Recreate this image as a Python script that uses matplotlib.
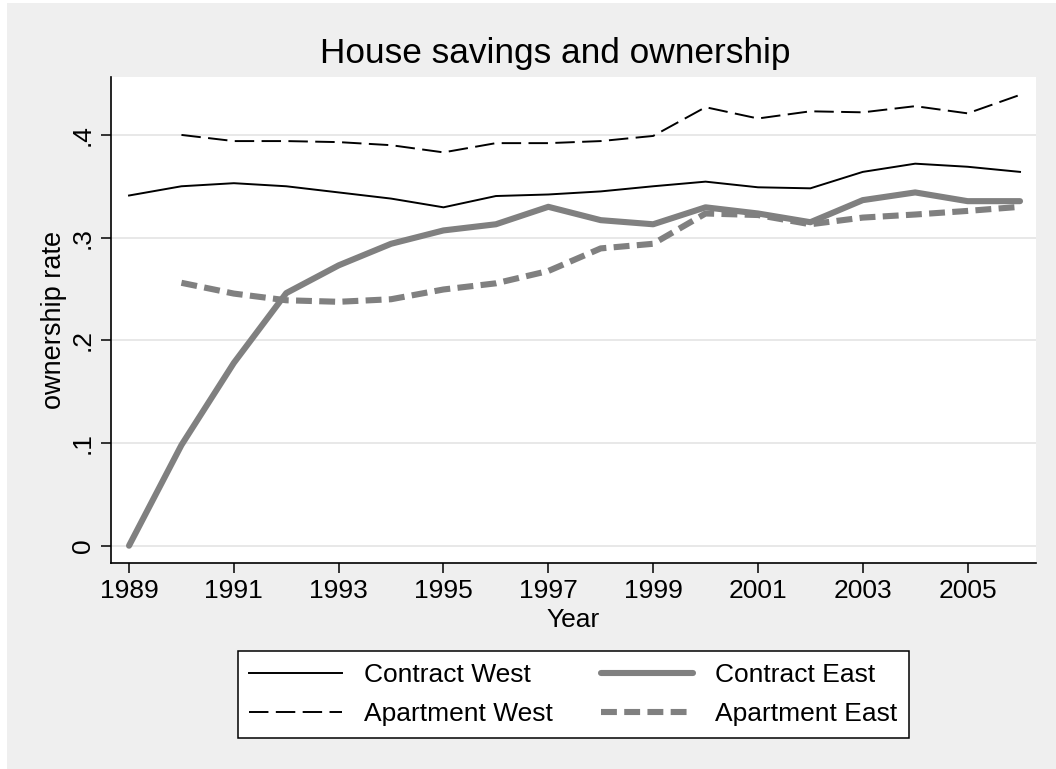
import matplotlib
matplotlib.use("Agg")
import matplotlib.pyplot as plt
from matplotlib.patches import Rectangle

plt.rcParams['font.family'] = ['Liberation Sans', 'DejaVu Sans']

years_all = list(range(1989, 2007))
years_apt = list(range(1990, 2007))

contract_west = [0.341, 0.350, 0.353, 0.350, 0.344, 0.338, 0.3295, 0.3405, 0.342,
                 0.345, 0.350, 0.3545, 0.349, 0.348, 0.364, 0.372, 0.369, 0.364]
contract_east = [0.000, 0.098, 0.178, 0.246, 0.273, 0.294, 0.307, 0.313, 0.330,
                 0.317, 0.313, 0.3295, 0.3235, 0.315, 0.3365, 0.344, 0.3355, 0.3355]
apartment_west = [0.400, 0.394, 0.394, 0.393, 0.390, 0.383, 0.392, 0.392,
                  0.394, 0.399, 0.427, 0.416, 0.423, 0.422, 0.428, 0.421, 0.439]
apartment_east = [0.256, 0.2455, 0.239, 0.2375, 0.240, 0.2495, 0.2555, 0.2675,
                  0.2895, 0.294, 0.3235, 0.322, 0.313, 0.3195, 0.3225, 0.326, 0.330]

x_ticks = [1989, 1991, 1993, 1995, 1997, 1999, 2001, 2003, 2005]
y_ticks = [0, 0.1, 0.2, 0.3, 0.4]
y_tick_labels = ['0', '.1', '.2', '.3', '.4']

W, H = 1056, 769
fig = plt.figure(figsize=(W / 100, H / 100), dpi=100, facecolor='white')
# light gray graph region (leaves a thin white strip at left and top)
fig.patches.append(Rectangle((7 / W, 0), 1 - 7 / W, 1 - 3 / H,
                             transform=fig.transFigure, facecolor='#EFEFEF',
                             edgecolor='none', zorder=-10))

ax = fig.add_axes([111 / W, 1 - 562.7 / H, (1036 - 111) / W, (562.7 - 77) / H])
ax.set_facecolor('white')

gray = '#808080'
ax.plot(years_all, contract_west, color='black', lw=1.4, label='Contract West')
ax.plot(years_all, contract_east, color=gray, lw=4.4, label='Contract East',
        solid_capstyle='round')
ax.plot(years_apt, apartment_west, color='black', lw=1.4, label='Apartment West',
        dashes=(10, 3.8))
ax.plot(years_apt, apartment_east, color=gray, lw=4.4, label='Apartment East',
        dashes=(2.6, 1.2))

ax.set_xlim(1988.656, 2006.305)
ax.set_ylim(-0.01655, 0.4564)
ax.set_xticks(x_ticks)
ax.set_yticks(y_ticks)
ax.set_yticklabels(y_tick_labels, rotation=90, va='center')
ax.grid(axis='y', color='#E6E6E6', lw=1.3)
ax.set_axisbelow(True)

for s in ['top', 'right']:
    ax.spines[s].set_visible(False)
for s in ['left', 'bottom']:
    ax.spines[s].set_linewidth(1.2)
ax.tick_params(axis='both', direction='out', length=7.5, width=1.1,
               labelsize=19, pad=4)

ax.set_xlabel('Year', fontsize=19, labelpad=3.5)
ax.set_ylabel('ownership rate', fontsize=19.5, labelpad=3)

fig.text(555 / W, 1 - 63 / H, 'House savings and ownership', fontsize=25.4,
         ha='center', va='baseline')

# two rows: Contract West / Contract East, then Apartment West / Apartment East
h, l = ax.get_legend_handles_labels()
order = [0, 2, 1, 3]
leg = fig.legend([h[i] for i in order], [l[i] for i in order], ncol=2,
                 loc='center', bbox_to_anchor=((235 + 912) / 2 / W, 1 - 694.5 / H),
                 fontsize=19, frameon=True, fancybox=False, framealpha=1,
                 edgecolor='black', facecolor='white',
                 handlelength=3.5, handletextpad=0.85, columnspacing=1.8,
                 borderpad=0.45, labelspacing=0.55)
leg.get_frame().set_linewidth(1.1)

fig.savefig('out.png', dpi=100, facecolor=fig.get_facecolor())
